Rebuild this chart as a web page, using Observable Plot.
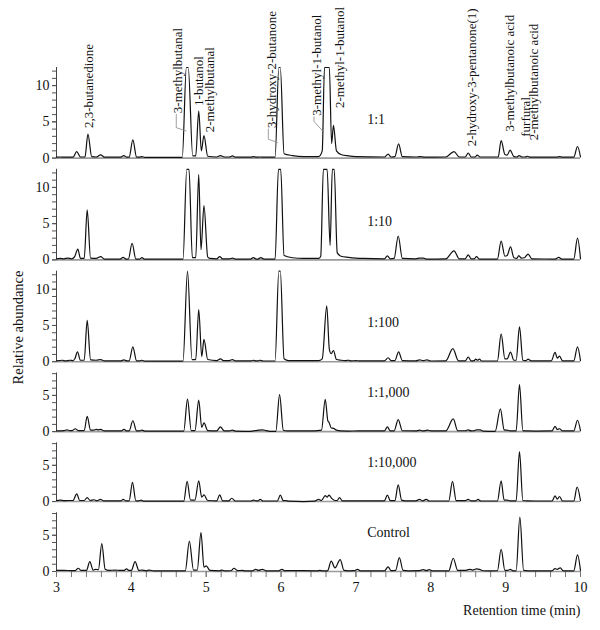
<!DOCTYPE html>
<html><head><meta charset="utf-8">
<script src="https://cdn.jsdelivr.net/npm/d3@7"></script>
<script src="https://cdn.jsdelivr.net/npm/@observablehq/plot@0.6"></script>
<style>body{margin:0;background:#fff}</style>
</head><body><div id="chart"></div>
<script>
// ---- data ----
const panels = ["1:1", "1:10", "1:100", "1:1,000", "1:10,000", "Control"];
const panelMax = [12.5, 12.5, 12.5, 8.1, 8.1, 8.1];
const majorTicks = [[0, 5, 10], [0, 5, 10], [0, 5, 10], [0, 5], [0, 5], [0, 5]];
const xTicks = [3, 4, 5, 6, 7, 8, 9, 10];

const trace1 = [[3.0,0.12],[3.05,0.15],[3.1,0.12],[3.22,0.12],[3.27,0.9],[3.32,0.15],[3.38,0.15],[3.42,3.3],[3.47,0.2],[3.53,0.15],[3.59,0.45],[3.64,0.12],[3.85,0.12],[3.9,0.35],[3.94,0.12],[3.97,0.12],[4.02,2.5],[4.07,0.12],[4.11,0.12],[4.14,0.2],[4.18,0.1],[4.68,0.1],[4.735,12.5],[4.76,12.5],[4.82,0.3],[4.86,0.3],[4.9,6.5],[4.935,1.0],[4.97,3.1],[5.02,0.25],[5.14,0.15],[5.19,0.35],[5.24,0.15],[5.31,0.15],[5.35,0.3],[5.39,0.12],[5.6,0.12],[5.63,0.2],[5.67,0.12],[5.72,0.15],[5.76,0.12],[5.92,0.12],[5.97,12.5],[5.99,12.5],[6.04,0.6],[6.15,0.35],[6.3,0.2],[6.5,0.2],[6.55,1.0],[6.58,12.5],[6.645,12.5],[6.675,2.0],[6.7,4.5],[6.74,1.0],[6.8,0.5],[6.9,0.3],[7.0,0.2],[7.38,0.15],[7.43,0.55],[7.47,0.15],[7.52,0.2],[7.57,1.95],[7.62,0.2],[7.8,0.15],[7.86,0.2],[7.92,0.12],[8.2,0.15],[8.31,0.9],[8.38,0.15],[8.46,0.15],[8.5,0.7],[8.54,0.15],[8.59,0.15],[8.62,0.4],[8.66,0.15],[8.9,0.15],[8.94,2.4],[8.99,0.5],[9.02,0.4],[9.06,1.1],[9.11,0.2],[9.15,0.15],[9.18,0.35],[9.22,0.15],[9.26,0.15],[9.29,0.25],[9.33,0.12],[9.68,0.12],[9.72,0.2],[9.76,0.12],[9.91,0.12],[9.96,1.6],[10.0,0.15]];
const trace2 = [[3.0,0.15],[3.05,0.2],[3.1,0.15],[3.15,0.25],[3.2,0.15],[3.24,0.4],[3.285,1.5],[3.32,0.2],[3.37,0.2],[3.41,6.9],[3.455,0.25],[3.53,0.2],[3.59,0.45],[3.64,0.12],[3.85,0.12],[3.89,0.35],[3.93,0.12],[3.96,0.12],[4.01,2.3],[4.06,0.12],[4.11,0.12],[4.14,0.3],[4.18,0.1],[4.69,0.1],[4.74,12.5],[4.77,12.5],[4.815,0.3],[4.86,0.3],[4.9,11.8],[4.93,1.4],[4.97,7.5],[5.02,0.4],[5.05,0.2],[5.14,0.15],[5.18,0.45],[5.22,0.15],[5.31,0.15],[5.35,0.25],[5.39,0.12],[5.59,0.12],[5.63,0.3],[5.67,0.12],[5.69,0.12],[5.73,0.3],[5.77,0.12],[5.92,0.12],[5.965,12.5],[5.995,12.5],[6.04,0.6],[6.15,0.3],[6.3,0.2],[6.5,0.2],[6.53,0.5],[6.565,12.5],[6.615,12.5],[6.655,2.0],[6.685,12.5],[6.71,12.5],[6.75,1.0],[6.8,0.5],[6.9,0.35],[7.0,0.25],[7.1,0.2],[7.38,0.15],[7.42,0.55],[7.46,0.15],[7.51,0.2],[7.565,3.3],[7.62,0.2],[7.8,0.15],[7.85,0.25],[7.9,0.25],[7.94,0.12],[8.2,0.15],[8.31,1.25],[8.38,0.15],[8.46,0.15],[8.5,0.7],[8.54,0.15],[8.58,0.15],[8.61,0.45],[8.65,0.12],[8.89,0.12],[8.94,2.6],[8.99,0.5],[9.02,0.6],[9.065,1.8],[9.11,0.3],[9.15,0.2],[9.175,0.6],[9.21,0.25],[9.25,0.3],[9.3,0.8],[9.35,0.15],[9.66,0.12],[9.71,0.35],[9.75,0.12],[9.91,0.12],[9.96,3.0],[10.0,0.15]];
const trace3 = [[3.0,0.12],[3.08,0.2],[3.12,0.12],[3.18,0.2],[3.22,0.15],[3.245,0.4],[3.28,1.37],[3.32,0.2],[3.37,0.2],[3.41,5.7],[3.455,0.25],[3.53,0.2],[3.59,0.3],[3.64,0.12],[3.86,0.12],[3.9,0.25],[3.94,0.12],[3.97,0.12],[4.02,2.06],[4.07,0.12],[4.11,0.12],[4.14,0.2],[4.18,0.08],[4.69,0.08],[4.75,12.5],[4.81,0.3],[4.86,0.3],[4.9,7.2],[4.94,0.7],[4.97,3.07],[5.02,0.3],[5.14,0.15],[5.19,0.4],[5.23,0.15],[5.31,0.15],[5.35,0.3],[5.39,0.12],[5.6,0.12],[5.63,0.2],[5.67,0.12],[5.69,0.12],[5.72,0.2],[5.76,0.1],[5.92,0.1],[5.97,12.5],[5.99,12.5],[6.04,0.4],[6.1,0.15],[6.5,0.15],[6.55,0.4],[6.61,7.7],[6.645,1.7],[6.67,1.1],[6.7,1.55],[6.74,0.3],[6.8,0.2],[6.86,0.15],[6.9,0.2],[6.94,0.12],[7.0,0.15],[7.04,0.12],[7.38,0.12],[7.43,0.55],[7.47,0.15],[7.52,0.15],[7.57,1.37],[7.62,0.15],[7.8,0.12],[7.85,0.25],[7.9,0.15],[7.95,0.25],[8.0,0.1],[8.2,0.12],[8.295,1.8],[8.37,0.12],[8.46,0.12],[8.5,0.65],[8.54,0.12],[8.58,0.15],[8.6,0.35],[8.625,0.2],[8.65,0.35],[8.68,0.1],[8.89,0.1],[8.94,3.85],[8.99,0.4],[9.02,0.4],[9.065,1.33],[9.11,0.2],[9.14,0.2],[9.185,4.8],[9.23,0.2],[9.27,0.15],[9.3,0.35],[9.34,0.12],[9.61,0.12],[9.66,1.28],[9.69,0.5],[9.72,0.78],[9.76,0.12],[9.91,0.12],[9.96,2.06],[10.0,0.15]];
const trace4 = [[3.0,0.1],[3.1,0.15],[3.14,0.25],[3.18,0.15],[3.21,0.15],[3.25,0.4],[3.29,0.15],[3.37,0.15],[3.41,2.1],[3.455,0.2],[3.5,0.2],[3.53,0.3],[3.56,0.25],[3.59,0.3],[3.64,0.1],[3.86,0.1],[3.9,0.3],[3.94,0.1],[3.97,0.1],[4.02,1.5],[4.07,0.1],[4.11,0.1],[4.14,0.2],[4.18,0.08],[4.7,0.08],[4.75,4.5],[4.8,0.15],[4.85,0.15],[4.9,4.35],[4.94,0.6],[4.97,1.2],[5.02,0.15],[5.14,0.1],[5.19,0.65],[5.24,0.1],[5.31,0.1],[5.35,0.2],[5.39,0.08],[5.6,0.05],[5.65,0.15],[5.7,0.2],[5.75,0.25],[5.8,0.15],[5.85,0.05],[5.93,0.05],[5.98,5.1],[6.03,0.2],[6.08,0.1],[6.45,0.1],[6.49,0.15],[6.54,0.2],[6.59,4.45],[6.625,1.5],[6.64,1.3],[6.67,0.5],[6.7,0.45],[6.74,0.2],[6.8,0.1],[6.9,0.08],[7.03,0.1],[7.38,0.1],[7.42,0.65],[7.46,0.1],[7.51,0.1],[7.565,1.67],[7.62,0.12],[7.8,0.1],[7.85,0.2],[7.89,0.1],[7.96,0.2],[8.0,0.1],[8.2,0.1],[8.3,1.76],[8.36,0.12],[8.46,0.12],[8.5,0.25],[8.54,0.1],[8.58,0.12],[8.61,0.25],[8.66,0.25],[8.7,0.08],[8.86,0.05],[8.93,3.15],[8.98,0.25],[9.02,0.2],[9.06,0.1],[9.14,0.1],[9.185,6.5],[9.23,0.15],[9.3,0.1],[9.4,0.08],[9.62,0.1],[9.66,0.74],[9.69,0.3],[9.72,0.4],[9.76,0.1],[9.91,0.1],[9.96,1.57],[10.0,0.12]];
const trace5 = [[3.0,0.12],[3.05,0.2],[3.1,0.12],[3.15,0.15],[3.22,0.15],[3.27,1.06],[3.31,0.15],[3.37,0.15],[3.41,0.55],[3.45,0.15],[3.5,0.25],[3.54,0.12],[3.59,0.3],[3.63,0.1],[3.86,0.1],[3.89,0.3],[3.93,0.1],[3.97,0.1],[4.015,2.64],[4.06,0.1],[4.1,0.1],[4.13,0.2],[4.17,0.05],[4.7,0.05],[4.745,2.78],[4.79,0.2],[4.85,0.2],[4.9,2.87],[4.94,0.6],[4.97,0.93],[5.02,0.15],[5.14,0.1],[5.18,0.93],[5.22,0.1],[5.3,0.1],[5.34,0.46],[5.39,0.08],[5.6,0.08],[5.63,0.2],[5.67,0.1],[5.69,0.1],[5.72,0.3],[5.76,0.08],[5.95,0.08],[5.99,0.88],[6.03,0.12],[6.06,0.15],[6.1,0.05],[6.3,0.0],[6.45,0.05],[6.5,0.3],[6.54,0.15],[6.59,0.83],[6.615,0.6],[6.64,0.9],[6.68,0.4],[6.72,0.15],[6.75,0.15],[6.78,0.55],[6.82,0.1],[7.0,0.1],[7.38,0.1],[7.42,0.88],[7.46,0.12],[7.52,0.12],[7.565,2.3],[7.61,0.2],[7.66,0.1],[7.8,0.1],[7.85,0.3],[7.89,0.1],[7.94,0.3],[7.98,0.08],[8.24,0.08],[8.29,2.78],[8.34,0.12],[8.46,0.12],[8.5,0.3],[8.54,0.1],[8.6,0.1],[8.63,0.3],[8.67,0.08],[8.89,0.08],[8.94,2.87],[8.98,0.2],[9.02,0.2],[9.06,0.1],[9.14,0.1],[9.185,6.9],[9.23,0.15],[9.3,0.1],[9.4,0.08],[9.62,0.08],[9.66,0.78],[9.69,0.35],[9.72,0.7],[9.76,0.08],[9.91,0.08],[9.955,2.0],[10.0,0.12]];
const trace6 = [[3.0,0.15],[3.1,0.15],[3.2,0.12],[3.25,0.12],[3.29,0.45],[3.33,0.15],[3.4,0.15],[3.445,1.37],[3.49,0.2],[3.52,0.3],[3.56,0.25],[3.605,3.85],[3.65,0.3],[3.7,0.15],[3.78,0.2],[3.85,0.15],[3.9,0.15],[3.935,0.35],[3.97,0.15],[4.0,0.15],[4.05,1.37],[4.1,0.15],[4.14,0.2],[4.2,0.1],[4.24,0.2],[4.3,0.08],[4.72,0.08],[4.775,4.2],[4.83,0.2],[4.88,0.2],[4.93,5.36],[4.97,0.6],[5.0,0.78],[5.05,0.15],[5.18,0.1],[5.21,0.2],[5.25,0.08],[5.33,0.1],[5.37,0.45],[5.42,0.12],[5.48,0.15],[5.52,0.1],[5.62,0.1],[5.66,0.3],[5.7,0.15],[5.75,0.3],[5.8,0.1],[5.97,0.1],[6.01,0.3],[6.05,0.1],[6.1,0.12],[6.48,0.1],[6.52,0.15],[6.55,0.1],[6.62,0.1],[6.67,1.42],[6.72,0.5],[6.79,1.65],[6.84,0.15],[6.9,0.1],[6.98,0.12],[7.02,0.3],[7.06,0.1],[7.38,0.1],[7.43,0.64],[7.47,0.12],[7.53,0.15],[7.58,1.92],[7.63,0.15],[7.7,0.1],[7.85,0.12],[7.9,0.25],[7.94,0.12],[7.98,0.25],[8.02,0.1],[8.24,0.1],[8.3,1.83],[8.36,0.15],[8.46,0.15],[8.52,0.3],[8.56,0.2],[8.61,0.35],[8.65,0.3],[8.7,0.1],[8.78,0.08],[8.89,0.1],[8.94,3.07],[8.99,0.15],[9.03,0.15],[9.06,0.3],[9.1,0.1],[9.14,0.1],[9.19,7.5],[9.24,0.15],[9.3,0.1],[9.4,0.1],[9.62,0.1],[9.66,0.4],[9.69,0.3],[9.73,0.5],[9.77,0.1],[9.91,0.1],[9.96,2.3],[10.0,0.15]];
const traces = [trace1, trace2, trace3, trace4, trace5, trace6];

// compound labels in the top panel: [name, retention time, abundance at label foot]
const compounds = [
  ["2,3-butanedione", 3.434, 4.15],
  ["3-methylbutanal", 4.62, 6.2],
  ["1-butanol", 4.9, 7.2],
  ["2-methylbutanal", 5.05, 3.55],
  ["3-hydroxy-2-butanone", 5.88, 4.15],
  ["3-methyl-1-butanol", 6.48, 5.84],
  ["2-methyl-1-butanol", 6.79, 6.9],
  ["2-hydroxy-3-pentanone(1)", 8.55, 1.62],
  ["3-methylbutanoic acid", 9.06, 3.68],
  ["furfural", 9.27, 2.95],
  ["2-methylbutanoic acid", 9.38, 2.45]
];
// leader lines: [name, knee time, knee abundance, end time, end abundance]
const leaders = [
  ["3-methylbutanal", 4.6, 4.2, 4.73, 3.75],
  ["3-hydroxy-2-butanone", 5.83, 2.6, 5.95, 2.17],
  ["3-methyl-1-butanol", 6.44, 5.05, 6.56, 3.7]
];

// ---- layout of stacked panels on one shared y scale ----
const gap = 1.55;
const base = new Array(panels.length);
let acc = 0;
for (let i = panels.length - 1; i >= 0; i--) { base[i] = acc; acc += panelMax[i] + gap; }
const yMax = acc - gap;

const points = traces.flatMap((tr, i) => tr.map(([t, v]) => ({panel: panels[i], t, y: base[i] + v})));

const majorPos = [], majorLabel = new Map(), minorPos = [];
panels.forEach((p, i) => {
  majorTicks[i].forEach(v => { const pos = base[i] + v; majorPos.push(pos); majorLabel.set(pos, String(v)); });
  d3.range(0, Math.floor(panelMax[i]) + 1).forEach(v => minorPos.push(base[i] + v));
});
const xMinor = d3.range(15, 51).map(d => d / 5);

const labelMap = new Map(compounds.map(d => [d[0], d]));
const leaderPts = leaders.flatMap(([name, tk, vk, te, ve]) => [
  {name, t: tk, y: base[0] + labelMap.get(name)[2] - 0.15},
  {name, t: tk, y: base[0] + vk},
  {name, t: te, y: base[0] + ve}
]);

const chart = Plot.plot({
  width: 600,
  height: 630,
  marginLeft: 56,
  marginRight: 20,
  marginTop: 67,
  marginBottom: 59,
  style: {fontFamily: "'Liberation Serif', 'Times New Roman', serif", fontSize: "13px", background: "#fff", color: "#111"},
  x: {domain: [3, 10]},
  y: {domain: [0, yMax]},
  marks: [
    Plot.ruleY(panels, {y: (d, i) => base[i], x1: () => 3, x2: () => 10, stroke: "#9a9a9a", strokeWidth: 1.6}),
    Plot.ruleX(panels, {x: () => 3, y1: (d, i) => base[i], y2: (d, i) => base[i] + panelMax[i], stroke: "#444", strokeWidth: 1}),
    Plot.axisY(minorPos, {tickSize: 4, fill: "none", label: null, stroke: "#555"}),
    Plot.axisY(majorPos, {tickSize: 4, tickPadding: 3, tickFormat: d => majorLabel.get(d), fontSize: 14, label: null, stroke: "#555"}),
    Plot.axisX(xMinor, {tickSize: 6, fill: "none", label: null, stroke: "#777"}),
    Plot.axisX(xTicks, {tickSize: 6, tickPadding: 5, fontSize: 14, label: null, stroke: "#777"}),
    Plot.line(points, {x: "t", y: "y", z: "panel", curve: "monotone-x", stroke: "#111", strokeWidth: 1.2}),
    Plot.line(leaderPts, {x: "t", y: "y", z: "name", stroke: "#888", strokeWidth: 0.8}),
    Plot.text(compounds, {x: d => d[1], y: d => base[0] + d[2], text: d => d[0], rotate: -90, textAnchor: "start", fontSize: 13, fill: "#111"}),
    Plot.text(panels, {x: () => 7.15, y: (d, i) => base[i] + 5.35, text: d => d, textAnchor: "start", fontSize: 14, fill: "#111"}),
    Plot.text(["Retention time (min)"], {frameAnchor: "bottom-right", text: d => d, textAnchor: "end", dy: 43, fontSize: 14, fill: "#111"}),
    Plot.text(["Relative abundance"], {frameAnchor: "left", text: d => d, rotate: -90, textAnchor: "middle", dx: -38, dy: 8, fontSize: 14.5, fill: "#111"})
  ]
});
document.getElementById("chart").append(chart);
</script>
</body></html>
